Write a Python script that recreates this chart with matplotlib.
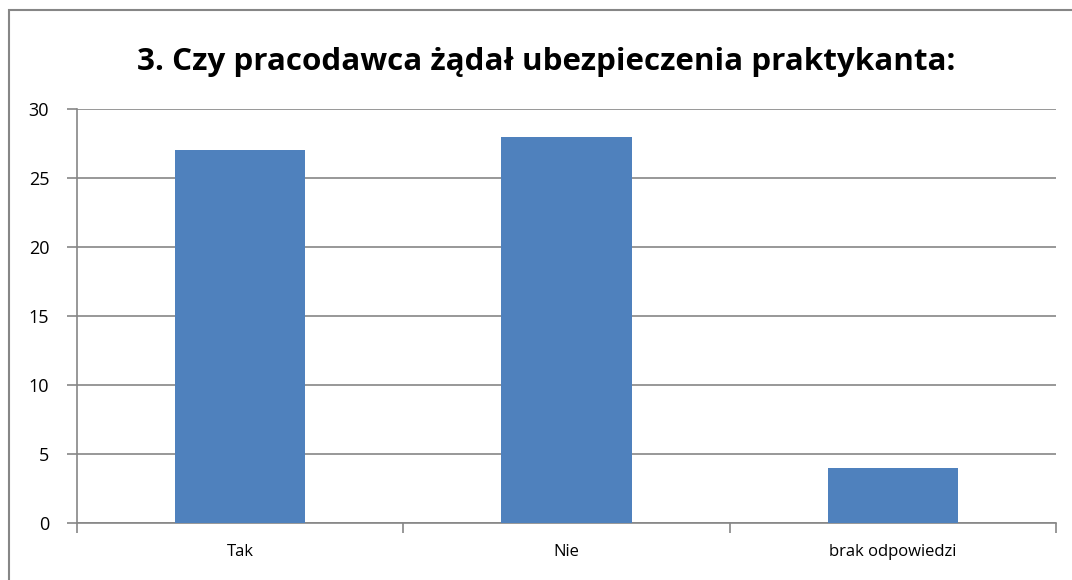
import matplotlib
matplotlib.use("Agg")
import matplotlib.pyplot as plt
from matplotlib.patches import Rectangle

categories = ["Tak", "Nie", "brak odpowiedzi"]
values = [27, 28, 4]
yticks = [0, 5, 10, 15, 20, 25, 30]
title = "3. Czy pracodawca żądał ubezpieczenia praktykanta:"

plt.rcParams['font.family'] = ['Open Sans', 'DejaVu Sans']

W, H = 1072, 580
fig = plt.figure(figsize=(W / 100, H / 100), dpi=100)

# outer chart border (extends past right/bottom edges)
fig.patches.append(Rectangle((9 / W, -0.05), 1.2, 1 - 10 / H + 0.05,
                             transform=fig.transFigure, fill=False,
                             edgecolor="#868686", linewidth=1.5))

left, right, top, bottom = 77, 1056, 109, 523
ax = fig.add_axes([left / W, 1 - bottom / H, (right - left) / W, (bottom - top) / H])

x = list(range(len(categories)))
ax.bar(x, values, width=0.4, color="#4F81BD", zorder=3)

ax.set_xlim(-0.5, len(categories) - 0.5)
ax.set_ylim(0, 30)
ax.set_yticks(yticks)
ax.set_yticklabels([str(t) for t in yticks], fontsize=13)
ax.grid(axis="y", color="#868686", linewidth=1.2, zorder=0)
ax.set_axisbelow(True)

ax.set_xticks(x)
ax.set_xticklabels(categories, fontsize=12)
ax.tick_params(axis="x", length=0, pad=15)
ax.set_xticks([-0.5, 0.5, 1.5, 2.5], minor=True)
ax.tick_params(axis="x", which="minor", length=7, color="#868686", width=1.2)
ax.tick_params(axis="y", length=7, color="#868686", width=1.2, pad=13)

for s in ["top", "right"]:
    ax.spines[s].set_visible(False)
for s in ["left", "bottom"]:
    ax.spines[s].set_color("#868686")
    ax.spines[s].set_linewidth(1.2)

fig.text(546 / W, 1 - 62 / H, title, ha="center", va="center",
         fontsize=22.6, fontweight="bold")

fig.savefig("out.png", dpi=100)
